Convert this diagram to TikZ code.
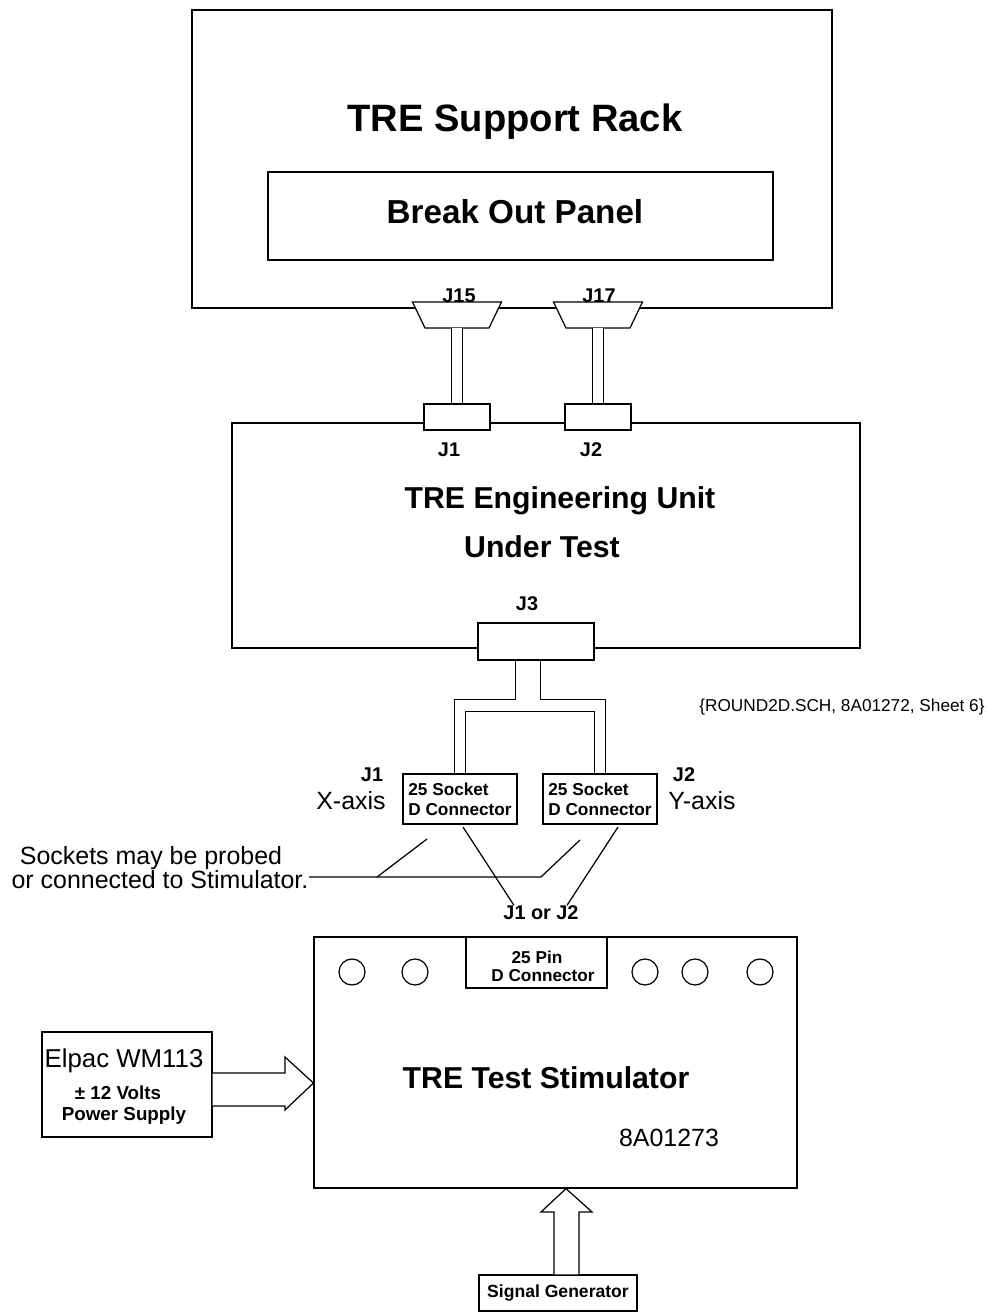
\documentclass[tikz,border=0pt]{standalone}
\usepackage{fontspec}
\setmainfont{Liberation Sans}
\usetikzlibrary{calc}

\begin{document}
	\begin{tikzpicture}[x=0.02cm, y=-0.02cm, line width=0.7pt,
		box/.style={draw, fill=white, inner sep=0pt},
		cable/.style={double, double distance=0.21cm},
		tag/.style={font=\bfseries\fontsize{11.3}{13}\selectfont, inner sep=0pt},
		small/.style={font=\bfseries\fontsize{9.8}{11.3}\selectfont, inner sep=0pt},
		plain/.style={font=\fontsize{14.2}{17}\selectfont, inner sep=0pt},
		big/.style={font=\bfseries\fontsize{17.2}{20}\selectfont, inner sep=0pt}]
		\useasboundingbox (0,0) rectangle (1003,1312);
		
		\node[box, minimum width=12.8cm, minimum height=5.96cm] (rack) at (512,159) {};
		\node[inner sep=0pt, font=\bfseries\fontsize{21.7}{26}\selectfont] (rackname) at (515,122) {TRE Support Rack};
		\node[box, minimum width=10.1cm, minimum height=1.76cm] (bop) at (520.5,216) {};
		\node[inner sep=0pt, font=\bfseries\fontsize{18.9}{22}\selectfont] (bopname) at (515,212) {Break Out Panel};
		\foreach \name/\x in {j15/457,j17/598} {
			\draw[fill=white] (\x-44.5,302) -- (\x+44.5,302) -- (\x+32,328) -- (\x-32,328) -- cycle;
			\coordinate (\name) at (\x,328);
		}
		\node[tag] (j15name) at (459,296) {J15};
		\node[tag] (j17name) at (599,296) {J17};
		
		\node[box, minimum width=12.56cm, minimum height=4.5cm] (eut) at (546,535.5) {};
		\node[box, minimum width=1.32cm, minimum height=0.52cm] (j1) at (457,417) {};
		\node[box, minimum width=1.32cm, minimum height=0.52cm] (j2) at (598,417) {};
		\node[tag] (j1name) at (449,450) {J1};
		\node[tag] (j2name) at (591,450) {J2};
		\node[big] (eutname) at (560,501) {TRE Engineering Unit};
		\node[big] (eutsub) at (542,547) {Under Test};
		\node[box, minimum width=2.32cm, minimum height=0.74cm] (j3) at (536,641.5) {};
		\node[tag] (j3name) at (527,604) {J3};
		
		\draw[cable] (j15) -- (j1.north);
		\draw[cable] (j17) -- (j2.north);
		
		\node[box, small, align=left, minimum width=2.28cm, minimum height=1.0cm] (s1) at (460,799) {25 Socket\\D Connector};
		\node[box, small, align=left, minimum width=2.28cm, minimum height=1.0cm] (s2) at (600,799) {25 Socket\\D Connector};
		\coordinate (fork) at (528,705.5);
		\draw[cable] (s1.north) |- (fork) -| (s2.north);
		\draw[cable, double distance=0.49cm, shorten <=0.4pt] (j3.south -| fork) -- ($(fork)+(0,-5.3)$);
		
		\node[tag] (s1tag) at (372,775) {J1};
		\node[plain] (s1axis) at (351,801) {X-axis};
		\node[tag] (s2tag) at (684,775) {J2};
		\node[plain] (s2axis) at (702,801) {Y-axis};
		\node[inner sep=0pt, font=\fontsize{9.8}{11}\selectfont] (sheet) at (842,707) {\{ROUND2D.SCH, 8A01272, Sheet 6\}};
		
		\node[plain] (probe1) at (151,858) {Sockets may be probed};
		\node[plain] (probe2) at (160,880) {or connected to Stimulator.};
		\node[tag] (jor) at (541,913) {J1 or J2};
		\coordinate (fa) at (377,877);
		\coordinate (fb) at (541,877);
		\draw (probe2.east |- fa) -- (fb) -- (580,840);
		\draw (fa) -- (427,839);
		\draw (463,827) -- (jor.north -| 514,0);
		\draw (618,827) -- (jor.north -| 567,0);
		
		\node[box, minimum width=9.66cm, minimum height=5.02cm] (stim) at (555.5,1062.5) {};
		\node[box, minimum width=2.82cm, minimum height=1.02cm] (dpin) at (536.5,962.5) {};
		\node[small] (dpin1) at (537,957) {25 Pin};
		\node[small] (dpin2) at (543,976) {D Connector};
		\foreach \x in {352,415,645,695,760}
			\node[circle, draw, minimum size=0.52cm, inner sep=0pt] (h\x) at (\x,972) {};
		\node[big] (stimname) at (546,1078) {TRE Test Stimulator};
		\node[plain] (stimno) at (669,1138) {8A01273};
		
		\node[box, minimum width=3.4cm, minimum height=2.1cm] (psu) at (127,1084.5) {};
		\node[inner sep=0pt, font=\fontsize{14.7}{17}\selectfont] (psuname) at (124,1061) {Elpac WM113};
		\node[inner sep=0pt, font=\bfseries\fontsize{10.7}{12}\selectfont] (psuvolt) at (118,1093) {± 12 Volts};
		\node[inner sep=0pt, font=\bfseries\fontsize{10.7}{12}\selectfont] (psutype) at (124,1116) {Power Supply};
		
		\node[box, font=\bfseries\fontsize{10}{12}\selectfont, minimum width=3.16cm, minimum height=0.72cm] (sig) at (558,1293) {Signal Generator};
		
		\draw[fill=white] (psu.east |- 0,1073) -- (285,1073) -- (285,1057) -- (stim.west |- 0,1083) -- (285,1110) -- (285,1106) -- (psu.east |- 0,1106);
		\draw[fill=white] (sig.north -| 554,0) -- (554,1212) -- (541,1212) -- (stim.south -| 566,0) -- (592,1212) -- (579,1212) -- (sig.north -| 579,0);
	\end{tikzpicture}
\end{document}
